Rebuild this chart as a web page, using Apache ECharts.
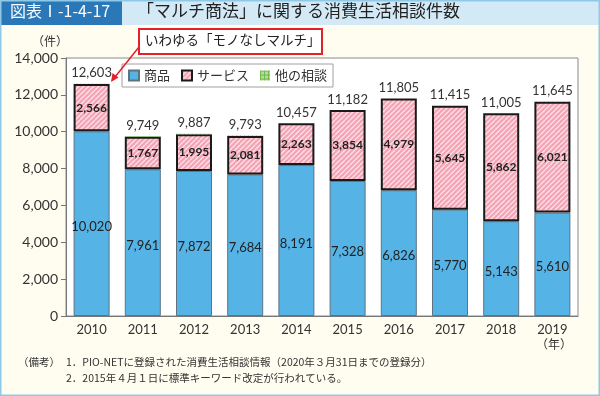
<!DOCTYPE html>
<html><head><meta charset="utf-8">
<script src="https://cdn.jsdelivr.net/npm/echarts@6/dist/echarts.min.js"></script>
<style>html,body{margin:0;padding:0;background:#fffdf0;}#c{width:600px;height:396px;}</style>
</head><body><div id="c"></div>
<script>
const years = ['2010','2011','2012','2013','2014','2015','2016','2017','2018','2019'];
const goods = [10020,7961,7872,7684,8191,7328,6826,5770,5143,5610];
const services = [2566,1767,1995,2081,2263,3854,4979,5645,5862,6021];
const others = [17,21,20,28,3,0,0,0,0,14];
const totals = [12603,9749,9887,9793,10457,11182,11805,11415,11005,11645];
const yTicks = [0,2000,4000,6000,8000,10000,12000,14000];

const JP = '"Noto Sans CJK JP", sans-serif';
const NUM = 'Lato, "Noto Sans CJK JP", sans-serif';
function fmt(v){return String(v).replace(/\B(?=(\d{3})+(?!\d))/g, ',');}

function hatch(){
  const c = document.createElement('canvas'); c.width = 5; c.height = 5;
  const g = c.getContext('2d');
  g.fillStyle = '#f3a3b3'; g.fillRect(0,0,5,5);
  g.strokeStyle = '#fde3e9'; g.lineWidth = 1.3;
  for (let k=-5;k<=10;k+=5){ g.beginPath(); g.moveTo(k,5); g.lineTo(k+5,0); g.stroke(); }
  return c;
}
function grid(){
  const c = document.createElement('canvas'); c.width = 4; c.height = 4;
  const g = c.getContext('2d');
  g.fillStyle = '#b7dd9a'; g.fillRect(0,0,4,4);
  g.fillStyle = '#6fb84a'; g.fillRect(0,0,4,1); g.fillRect(0,0,1,4);
  return c;
}

const chart = echarts.init(document.getElementById('c'), null, {renderer:'canvas'});
chart.setOption({
  animation:false,
  backgroundColor:'#fffdf0',
  textStyle:{fontFamily:JP},
  grid:{left:66,right:22,top:58,bottom:80,show:true,backgroundColor:'#ffffff',borderColor:'#8a8a8a',borderWidth:1},
  legend:{
    left:122, top:64, itemWidth:10, itemHeight:10, itemGap:11,
    backgroundColor:'#ffffff', borderColor:'#a0a0a0', borderWidth:1, padding:[5,6,5,6],
    textStyle:{fontFamily:JP,fontSize:13,color:'#333'},
    data:[{name:'商品',icon:'rect'},{name:'サービス',icon:'rect'},{name:'他の相談',icon:'rect'}]
  },
  xAxis:{
    type:'category', data:years, boundaryGap:true,
    axisLine:{lineStyle:{color:'#777'}},
    axisTick:{inside:true,length:5,lineStyle:{color:'#777'}},
    axisLabel:{fontFamily:NUM,fontSize:13,color:'#333',margin:7}
  },
  yAxis:{
    type:'value', min:yTicks[0], max:yTicks[yTicks.length-1], interval:2000,
    splitLine:{show:false},
    axisLine:{show:true,lineStyle:{color:'#777'}},
    axisTick:{show:true,length:5,lineStyle:{color:'#777'}},
    axisLabel:{fontFamily:NUM,fontSize:14,color:'#333',margin:8,formatter:v=>fmt(v)}
  },
  series:[
    {name:'商品',type:'bar',stack:'t',data:goods,barWidth:36,
     itemStyle:{color:'#55b3e6',borderColor:'#5d7382',borderWidth:1},
     label:{show:true,position:'inside',offset:[0,3],fontFamily:NUM,fontSize:13,color:'#222',formatter:p=>fmt(p.value)}},
    {name:'サービス',type:'bar',stack:'t',data:services,barWidth:36,
     itemStyle:{color:{image:hatch(),repeat:'repeat'},borderColor:'#1a1a1a',borderWidth:2},
     label:{show:true,position:'inside',fontFamily:NUM,fontSize:12,fontWeight:'bold',color:'#222',formatter:p=>fmt(p.value)}},
    {name:'他の相談',type:'bar',stack:'t',data:others,barWidth:36,
     itemStyle:{color:{image:grid(),repeat:'repeat'},borderWidth:0},
     label:{show:true,position:'top',distance:4,fontFamily:NUM,fontSize:13,color:'#333',formatter:p=>fmt(totals[p.dataIndex])}}
  ],
  graphic:[
    {type:'rect',shape:{x:0,y:0,width:600,height:25},style:{fill:'#d3e9f6'},z:10},
    {type:'rect',shape:{x:0,y:0,width:122,height:25},style:{fill:'#2a78b8'},z:11},
    {type:'text',left:10,top:3,style:{text:'図表Ⅰ-1-4-17',fill:'#fff',font:'16px '+JP},z:12},
    {type:'text',left:137,top:2,style:{text:'「マルチ商法」に関する消費生活相談件数',fill:'#222',font:'17px '+JP},z:12},
    {type:'rect',shape:{x:0.75,y:0.75,width:598.5,height:394.5},style:{fill:'none',stroke:'#8fc9e8',lineWidth:1.5},z:20},
    {type:'rect',shape:{x:139,y:29,width:183,height:25},style:{fill:'#ffffff',stroke:'#e3212b',lineWidth:2},z:15},
    {type:'text',left:145,top:33,style:{text:'いわゆる「モノなしマルチ」',fill:'#222',font:'13.5px '+JP},z:16},
    {type:'line',shape:{x1:139,y1:47,x2:115,y2:77},style:{stroke:'#e3212b',lineWidth:1.5},z:16},
    {type:'polygon',shape:{points:[[111,82],[112.5,73],[118.5,77.5]]},style:{fill:'#e3212b'},z:16},
    {type:'text',left:32,top:35,style:{text:'（件）',fill:'#333',font:'12px '+JP},z:16},
    {type:'text',left:536,top:338,style:{text:'（年）',fill:'#333',font:'12px '+JP},z:16},
    {type:'text',left:18,top:357,style:{text:'（備考）',fill:'#333',font:'10.5px '+JP},z:16},
    {type:'text',left:66,top:357,style:{text:'1．PIO-NETに登録された消費生活相談情報（2020年３月31日までの登録分）',fill:'#333',font:'10.5px '+JP},z:16},
    {type:'text',left:66,top:373,style:{text:'2．2015年４月１日に標準キーワード改定が行われている。',fill:'#333',font:'10.5px '+JP},z:16}
  ]
});
</script></body></html>
